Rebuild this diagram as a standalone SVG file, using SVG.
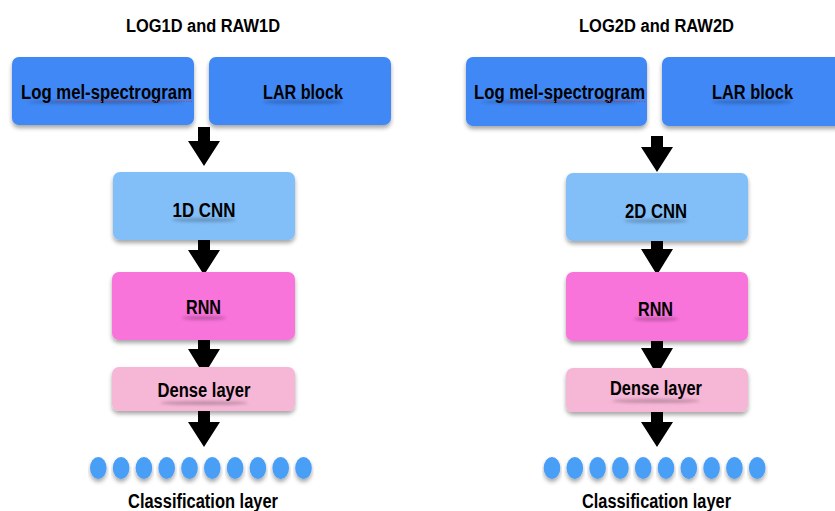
<svg xmlns="http://www.w3.org/2000/svg" width="835" height="511" viewBox="0 0 835 511">
<defs>
<filter id="sh" x="-10%" y="-20%" width="120%" height="150%">
<feDropShadow dx="0" dy="3" stdDeviation="2" flood-color="#000" flood-opacity="0.35"/>
</filter>
<filter id="blur" x="-20%" y="-200%" width="140%" height="500%">
<feGaussianBlur stdDeviation="1.5"/>
</filter>
<marker id="ah" viewBox="0 0 32 26" refX="16" refY="26" markerWidth="32" markerHeight="26" markerUnits="userSpaceOnUse" orient="auto-start-reverse">
<path d="M0 0 L32 0 L16 26 Z" fill="#000"/>
</marker>
</defs>
<style>
text{font-family:"Liberation Sans",Arial,Helvetica,sans-serif;font-weight:bold;fill:#000;text-anchor:middle}
.t{font-size:18px}
.l{font-size:19.5px}
.blue{fill:#3F88F5}
.lblue{fill:#82BEF7}
.rnn{fill:#F873DA}
.dense{fill:#F6B6D6}
.box{filter:url(#sh)}
.dot{fill:#4A9EF6;filter:url(#sh)}
.ts{fill:#000;opacity:0.22;filter:url(#blur)}
.spell{stroke:#E03030;stroke-width:1;stroke-dasharray:1 1.5;fill:none}
.arr{fill:#000}
</style>
<rect width="835" height="511" fill="#fff"/>

<text class="t" x="203" y="31.5" textLength="154" lengthAdjust="spacingAndGlyphs">LOG1D and RAW1D</text>
<text class="t" x="656.5" y="31.5" textLength="155" lengthAdjust="spacingAndGlyphs">LOG2D and RAW2D</text>

<g id="connectors">
<path class="arr" d="M198 127 H210 V141 H220 L204 166 L188 141 H198 Z"/>
<path class="arr" d="M198 240 H210 V250 H220 L204 275 L188 250 H198 Z"/>
<path class="arr" d="M198 340 H210 V349 H220 L204 375 L188 349 H198 Z"/>
<path class="arr" d="M198 411 H210 V422 H220 L204 447 L188 422 H198 Z"/>
<path class="arr" d="M651 136 H663 V147 H673 L657 172 L641 147 H651 Z"/>
<path class="arr" d="M651 240 H663 V249 H673 L657 275 L641 249 H651 Z"/>
<path class="arr" d="M651 340 H663 V348 H673 L657 375 L641 348 H651 Z"/>
<path class="arr" d="M651 411 H663 V422 H673 L657 447 L641 422 H651 Z"/>
</g>

<g id="logmel1">
<rect class="box blue" x="12" y="57" width="182" height="68" rx="7"/>
<ellipse class="ts" cx="106" cy="102" rx="78" ry="2"/>
<text class="l" x="106.5" y="99" textLength="171" lengthAdjust="spacingAndGlyphs">Log mel-spectrogram</text>
<line class="spell" x1="56" y1="101.5" x2="192" y2="101.5"/>
</g>
<g id="lar1">
<rect class="box blue" x="209" y="57" width="182" height="68" rx="7"/>
<ellipse class="ts" cx="303" cy="102" rx="40" ry="2"/>
<text class="l" x="303" y="99" textLength="80" lengthAdjust="spacingAndGlyphs">LAR block</text>
</g>
<g id="cnn1">
<rect class="box lblue" x="113" y="172" width="182" height="68" rx="7"/>
<ellipse class="ts" cx="204" cy="220" rx="32" ry="2"/>
<text class="l" x="204" y="217" textLength="63" lengthAdjust="spacingAndGlyphs">1D CNN</text>
</g>
<g id="rnn1">
<rect class="box rnn" x="112" y="272" width="183" height="68" rx="7"/>
<ellipse class="ts" cx="204" cy="318" rx="22" ry="2"/>
<text class="l" x="203.5" y="314" textLength="35" lengthAdjust="spacingAndGlyphs">RNN</text>
</g>
<g id="dense1">
<rect class="box dense" x="112" y="367" width="183" height="44" rx="7"/>
<ellipse class="ts" cx="204" cy="403" rx="44" ry="2"/>
<text class="l" x="204" y="397" textLength="93" lengthAdjust="spacingAndGlyphs">Dense layer</text>
</g>
<g id="class1">
<ellipse class="dot" cx="98.3" cy="468" rx="8.3" ry="11"/>
<ellipse class="dot" cx="121.1" cy="468" rx="8.3" ry="11"/>
<ellipse class="dot" cx="143.9" cy="468" rx="8.3" ry="11"/>
<ellipse class="dot" cx="166.7" cy="468" rx="8.3" ry="11"/>
<ellipse class="dot" cx="189.5" cy="468" rx="8.3" ry="11"/>
<ellipse class="dot" cx="212.3" cy="468" rx="8.3" ry="11"/>
<ellipse class="dot" cx="235.1" cy="468" rx="8.3" ry="11"/>
<ellipse class="dot" cx="257.9" cy="468" rx="8.3" ry="11"/>
<ellipse class="dot" cx="280.7" cy="468" rx="8.3" ry="11"/>
<ellipse class="dot" cx="303.5" cy="468" rx="8.3" ry="11"/>
<text class="l" x="203" y="507.5" textLength="150" lengthAdjust="spacingAndGlyphs">Classification layer</text>
</g>

<g id="logmel2">
<rect class="box blue" x="466" y="57" width="181" height="69" rx="7"/>
<ellipse class="ts" cx="559" cy="102" rx="78" ry="2"/>
<text class="l" x="559.5" y="99.3" textLength="171" lengthAdjust="spacingAndGlyphs">Log mel-spectrogram</text>
<line class="spell" x1="509" y1="101.5" x2="645" y2="101.5"/>
</g>
<g id="lar2">
<rect class="box blue" x="662" y="57" width="182" height="69" rx="7"/>
<ellipse class="ts" cx="752" cy="102" rx="40" ry="2"/>
<text class="l" x="752.5" y="99.3" textLength="81" lengthAdjust="spacingAndGlyphs">LAR block</text>
</g>
<g id="cnn2">
<rect class="box lblue" x="566" y="173" width="182" height="68" rx="7"/>
<ellipse class="ts" cx="656" cy="221" rx="32" ry="2"/>
<text class="l" x="656" y="217.7" textLength="62" lengthAdjust="spacingAndGlyphs">2D CNN</text>
</g>
<g id="rnn2">
<rect class="box rnn" x="566" y="272" width="182" height="69" rx="7"/>
<ellipse class="ts" cx="656" cy="319" rx="22" ry="2"/>
<text class="l" x="655.5" y="315.5" textLength="35" lengthAdjust="spacingAndGlyphs">RNN</text>
</g>
<g id="dense2">
<rect class="box dense" x="566" y="368" width="182" height="44" rx="7"/>
<ellipse class="ts" cx="656" cy="401" rx="44" ry="2"/>
<text class="l" x="656" y="395" textLength="92" lengthAdjust="spacingAndGlyphs">Dense layer</text>
</g>
<g id="class2">
<ellipse class="dot" cx="552" cy="468" rx="8.3" ry="11"/>
<ellipse class="dot" cx="574.8" cy="468" rx="8.3" ry="11"/>
<ellipse class="dot" cx="597.6" cy="468" rx="8.3" ry="11"/>
<ellipse class="dot" cx="620.4" cy="468" rx="8.3" ry="11"/>
<ellipse class="dot" cx="643.2" cy="468" rx="8.3" ry="11"/>
<ellipse class="dot" cx="666" cy="468" rx="8.3" ry="11"/>
<ellipse class="dot" cx="688.8" cy="468" rx="8.3" ry="11"/>
<ellipse class="dot" cx="711.6" cy="468" rx="8.3" ry="11"/>
<ellipse class="dot" cx="734.4" cy="468" rx="8.3" ry="11"/>
<ellipse class="dot" cx="757.2" cy="468" rx="8.3" ry="11"/>
<text class="l" x="656.5" y="507.5" textLength="149" lengthAdjust="spacingAndGlyphs">Classification layer</text>
</g>
</svg>
